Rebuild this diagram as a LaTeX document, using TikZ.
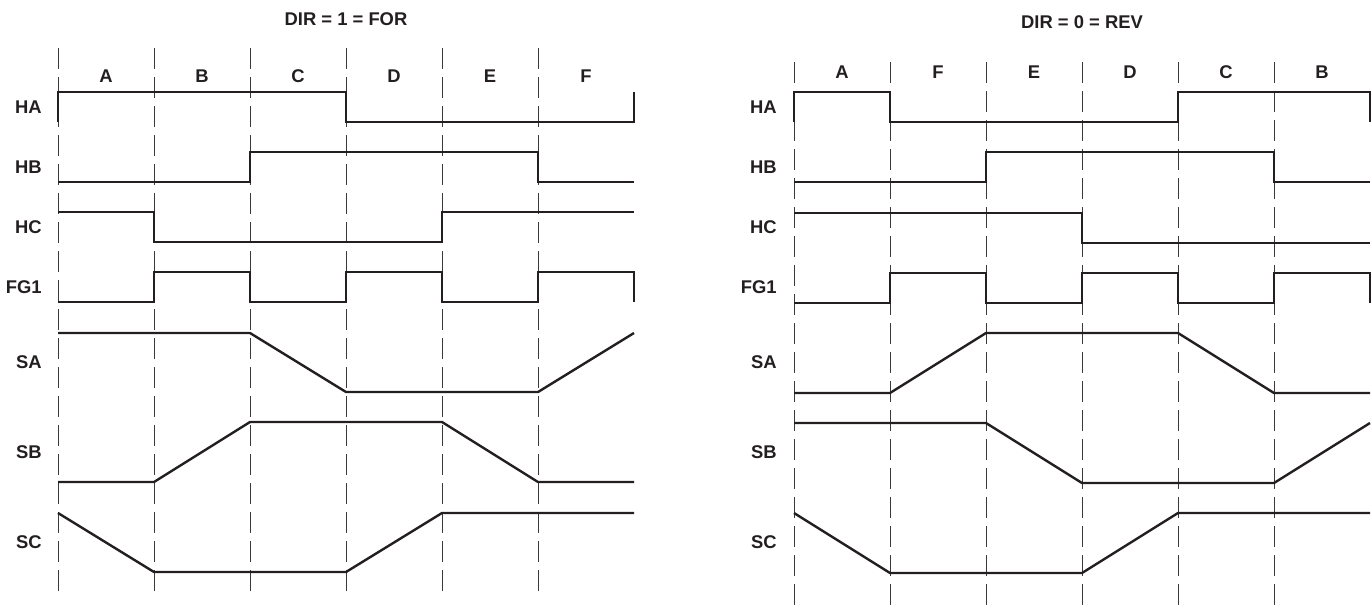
\documentclass[tikz,border=0pt]{standalone}
\usepackage{fontspec}
\setmainfont{Liberation Sans}
\usepackage{xcolor}
\definecolor{ink}{HTML}{231F20}
\definecolor{gridgray}{HTML}{3A3A3A}

\begin{document}
\begin{tikzpicture}[
    x=0.5pt, y=-0.5pt,
    sig/.style={draw=ink, line width=1.2pt, line join=miter},
    gridline/.style={draw=gridgray, line width=0.45pt, dash pattern=on 10.5pt off 4pt},
    lbl/.style={font=\fontsize{9.2}{11}\selectfont\bfseries, text=ink, inner sep=0pt},
    rowlbl/.style={lbl, anchor=east},
]
\useasboundingbox (0,0) rectangle (1372,607);

% titles
\node[lbl] (titlefor) at (346,19) {DIR = 1 = FOR};
\node[lbl] (titlerev) at (1082,22) {DIR = 0 = REV};

% row labels, both panels
\foreach \name/\y [count=\k] in {HA/107,HB/167,HC/227,FG1/287,SA/362,SB/452,SC/542} {
    \node[rowlbl] (forrow\k) at (42,\y) {\name};
    \node[rowlbl] (revrow\k) at (777,\y) {\name};
}

% forward direction
\begin{scope}[shift={(58,0)}]
\foreach \i in {0,...,5}
    \draw[gridline] (\i*96,48) -- (\i*96,597);
\foreach \t [count=\i from 0] in {A,B,C,D,E,F}
    \node[lbl] (forcol\i) at (\i*96+48,76) {\t};
\draw[sig] (0,122) -- (0,92) -- (288,92) -- (288,122) -- (576,122) -- (576,92);
\draw[sig] (0,182) -- (192,182) -- (192,152) -- (480,152) -- (480,182) -- (576,182);
\draw[sig] (0,212) -- (96,212) -- (96,242) -- (384,242) -- (384,212) -- (576,212);
\draw[sig] (0,302) -- (96,302) -- (96,272) -- (192,272) -- (192,302) -- (288,302)
    -- (288,272) -- (384,272) -- (384,302) -- (480,302) -- (480,272) -- (576,272) -- (576,302);
\draw[sig] (0,333) -- (192,333) -- (288,392) -- (480,392) -- (576,333);
\draw[sig] (0,482) -- (96,482) -- (192,422) -- (384,422) -- (480,482) -- (576,482);
\draw[sig] (0,513) -- (96,572) -- (288,572) -- (384,513) -- (576,513);
\end{scope}

% reverse direction
\begin{scope}[shift={(794,0)}]
\foreach \i in {0,...,5}
    \draw[gridline] (\i*96,62) -- (\i*96,607);
\foreach \t [count=\i from 0] in {A,F,E,D,C,B}
    \node[lbl] (revcol\i) at (\i*96+48,72) {\t};
\draw[sig] (0,122) -- (0,92) -- (96,92) -- (96,122) -- (384,122) -- (384,92) -- (576,92) -- (576,122);
\draw[sig] (0,182) -- (192,182) -- (192,152) -- (480,152) -- (480,182) -- (576,182);
\draw[sig] (0,213) -- (288,213) -- (288,243) -- (576,243);
\draw[sig] (0,303) -- (96,303) -- (96,273) -- (192,273) -- (192,303) -- (288,303)
    -- (288,273) -- (384,273) -- (384,303) -- (480,303) -- (480,273) -- (576,273) -- (576,303);
\draw[sig] (0,393) -- (96,393) -- (192,333) -- (384,333) -- (480,393) -- (576,393);
\draw[sig] (0,423) -- (192,423) -- (288,483) -- (480,483) -- (576,423);
\draw[sig] (0,513) -- (96,573) -- (288,573) -- (384,513) -- (576,513);
\end{scope}

\end{tikzpicture}
\end{document}
